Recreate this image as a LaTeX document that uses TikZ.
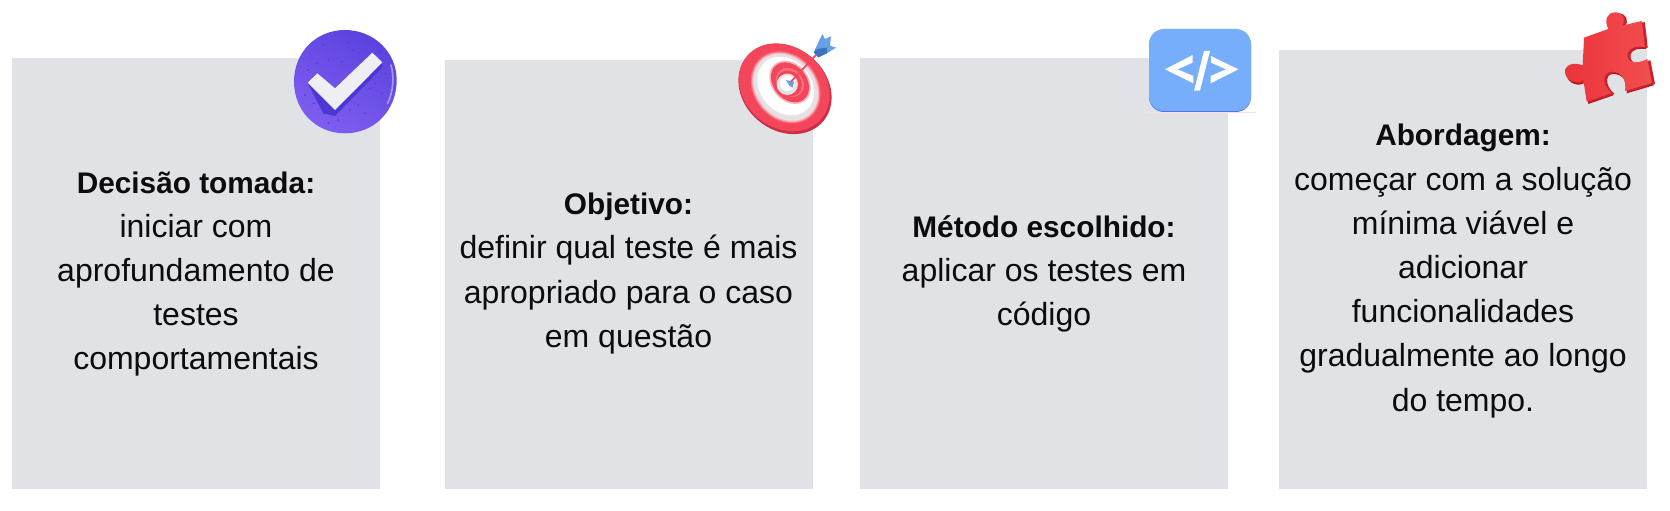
\documentclass[tikz,border=0pt]{standalone}
\usepackage{fontspec}
\setmainfont{Liberation Sans}
\definecolor{card}{HTML}{E1E2E6}
\definecolor{ink}{HTML}{0C0C0C}
\definecolor{chkA}{RGB}{92,66,222}
\definecolor{chkB}{RGB}{126,94,240}
\definecolor{chkS}{RGB}{76,54,212}
\definecolor{chkH}{RGB}{172,152,246}
\definecolor{chkD}{RGB}{122,44,176}
\definecolor{chkW}{RGB}{238,238,243}
\definecolor{pzA}{RGB}{234,52,58}
\definecolor{pzB}{RGB}{242,78,80}
\definecolor{pzD}{RGB}{176,24,34}
\definecolor{pzE}{RGB}{204,32,42}
\definecolor{tgD}{RGB}{205,45,70}
\definecolor{tgR}{RGB}{244,70,90}
\definecolor{tgP}{RGB}{250,112,128}
\definecolor{tgQ}{RGB}{250,178,186}
\definecolor{tgG}{RGB}{230,226,228}
\definecolor{tgB}{RGB}{104,160,232}
\definecolor{tgC}{RGB}{62,112,192}
\definecolor{cdA}{RGB}{118,174,252}
\definecolor{cdB}{RGB}{80,115,245}
\definecolor{cdL}{RGB}{248,222,232}
\tikzset{
  x=1pt,y=-1pt,
  cardbox/.style={fill=card,draw=none},
  cardtext/.style={align=center,text=ink,inner sep=0pt,font=\fontsize{32}{44.2}\selectfont},
  iconscope/.style={x=0.3333pt,y=-0.3333pt},
}
\newcommand{\hd}[1]{{\fontsize{29.8}{44.2}\selectfont\bfseries #1}}
\begin{document}
\begin{tikzpicture}
\useasboundingbox (0,0) rectangle (1670,511);
\fill[white] (0,0) rectangle (1670,511);
% cards
\fill[cardbox] (12,58) rectangle (380,489);
\fill[cardbox] (445,60) rectangle (813,489);
\fill[cardbox] (860,58) rectangle (1228,489);
\fill[cardbox] (1279,50) rectangle (1647,489);
% texts
\node[cardtext] (t1) at (196,274) {\hd{Decisão tomada:}\\iniciar com\\aprofundamento de\\testes\\comportamentais};
\node[cardtext] (t2) at (628.5,273.5) {\hd{Objetivo:}\\definir qual teste é mais\\apropriado para o caso\\em questão};
\node[cardtext] (t3) at (1044,274) {\hd{Método escolhido:}\\aplicar os testes em\\código};
\node[cardtext] (t4) at (1463,271) {\hd{Abordagem:}\\começar com a solução\\mínima viável e\\adicionar\\funcionalidades\\gradualmente ao longo\\do tempo.};
% check icon
\begin{scope}[shift={(285,20)},iconscope]
  \shade[left color=chkA,right color=chkB,shading angle=-30]
    (180,30) .. controls (265,30) and (335,95) .. (335,180)
    .. controls (335,275) and (265,340) .. (180,340)
    .. controls (90,340) and (27,270) .. (27,185)
    .. controls (27,95) and (95,30) .. (180,30) -- cycle;
  \draw[line width=1.6pt,color=chkH,line cap=round] (318,135) .. controls (328,170) and (325,215) .. (308,250);
  \fill[color=chkS] (68,190) -- (150,272) -- (292,130) -- (292,142) -- (150,288) -- (115,280) -- cycle;
  \foreach \a/\b in {115/75,190/68,205/90,255/68,285/95,130/120,170/125,95/130,70/150,235/190,270/190,290/220,255/205,220/255,195/270,160/300,130/310,240/280,85/250,60/225,300/160,225/120}
    \fill[color=chkD] (\a,\b) circle (2.6);
  \fill[color=chkW] (97,160) -- (68,188) -- (150,270) -- (292,127) -- (262,98) -- (150,205) -- cycle;
\end{scope}
% target icon
\begin{scope}[shift={(730,25)},iconscope]
  \fill[color=tgD,rotate around={-40:(165,192)}] (165,192) ellipse (150 and 124);
  \fill[color=tgR,rotate around={-40:(163,187)}] (163,187) ellipse (146 and 121);
  \fill[color=tgP,rotate around={-50:(167,187)}] (167,187) ellipse (116 and 96);
  \fill[color=tgQ,rotate around={-50:(167,187)}] (167,187) ellipse (112 and 92);
  \fill[color=tgG,rotate around={-50:(167,187)}] (167,187) ellipse (108 and 88);
  \fill[white,rotate around={-50:(167,183)}] (167,183) ellipse (95 and 77);
  \fill[color=tgQ,rotate around={-50:(180,172)}] (180,172) ellipse (71 and 55);
  \fill[color=tgR,rotate around={-50:(180,172)}] (180,172) ellipse (66 and 50);
  \fill[color=tgP,rotate around={-50:(180,172)}] (180,172) ellipse (47 and 38);
  \fill[color=tgR,rotate around={-50:(178,175)}] (178,175) ellipse (41 and 35);
  \fill[color=tgG] (172,178) circle (32);
  \fill[white] (172,175) circle (23);
  \fill[color=tgB] (168,165) -- (192,170) -- (188,188) -- (178,182) -- cycle;
  \draw[line width=1.7pt,color=tgR] (183,170) -- (258,90);
  \fill[color=tgB] (277,27) -- (285,42) -- (303,34) -- (300,62) -- (318,68) -- (292,84) -- (265,97) -- (251,82) -- cycle;
  \fill[color=tgC] (251,82) -- (262,72) -- (290,68) -- (292,84) -- (265,97) -- cycle;
\end{scope}
% code icon
\begin{scope}[shift={(1140,20)},iconscope]
  \draw[line width=.6pt,color=cdL] (15,276) -- (348,276);
  \fill[color=cdB,rounded corners=15pt] (27,30) rectangle (333,276);
  \fill[color=cdA,rounded corners=15pt] (27,27) rectangle (333,273);
  \fill[white] (158,105) -- (75,148) -- (160,190) -- (160,168) -- (113,148) -- (158,128) -- cycle;
  \fill[white] (192,93) -- (210,93) -- (180,212) -- (162,212) -- cycle;
  \fill[white] (213,108) -- (295,148) -- (212,190) -- (212,168) -- (258,148) -- (213,128) -- cycle;
\end{scope}
% puzzle icon
\begin{scope}[shift={(1560,5)},iconscope]
  \def\piece{(72,98) -- (145,72) .. controls (132,48) and (140,22) .. (165,22) .. controls (192,22) and (198,45) .. (186,62) -- (245,48)
    .. controls (250,80) and (252,105) .. (254,126) .. controls (235,122) and (208,125) .. (203,145) .. controls (198,170) and (222,182) .. (262,162)
    -- (276,234) -- (195,258) .. controls (200,225) and (185,200) .. (155,200) .. controls (130,200) and (120,235) .. (155,264)
    -- (80,290) -- (70,225) .. controls (55,240) and (15,230) .. (15,200) .. controls (15,178) and (45,170) .. (68,182) -- cycle}
  \fill[color=pzD,shift={(5,7)}] \piece;
  \fill[color=pzE,shift={(9,3)}] \piece;
  \shade[left color=pzA,right color=pzB] \piece;
\end{scope}
\end{tikzpicture}
\end{document}
